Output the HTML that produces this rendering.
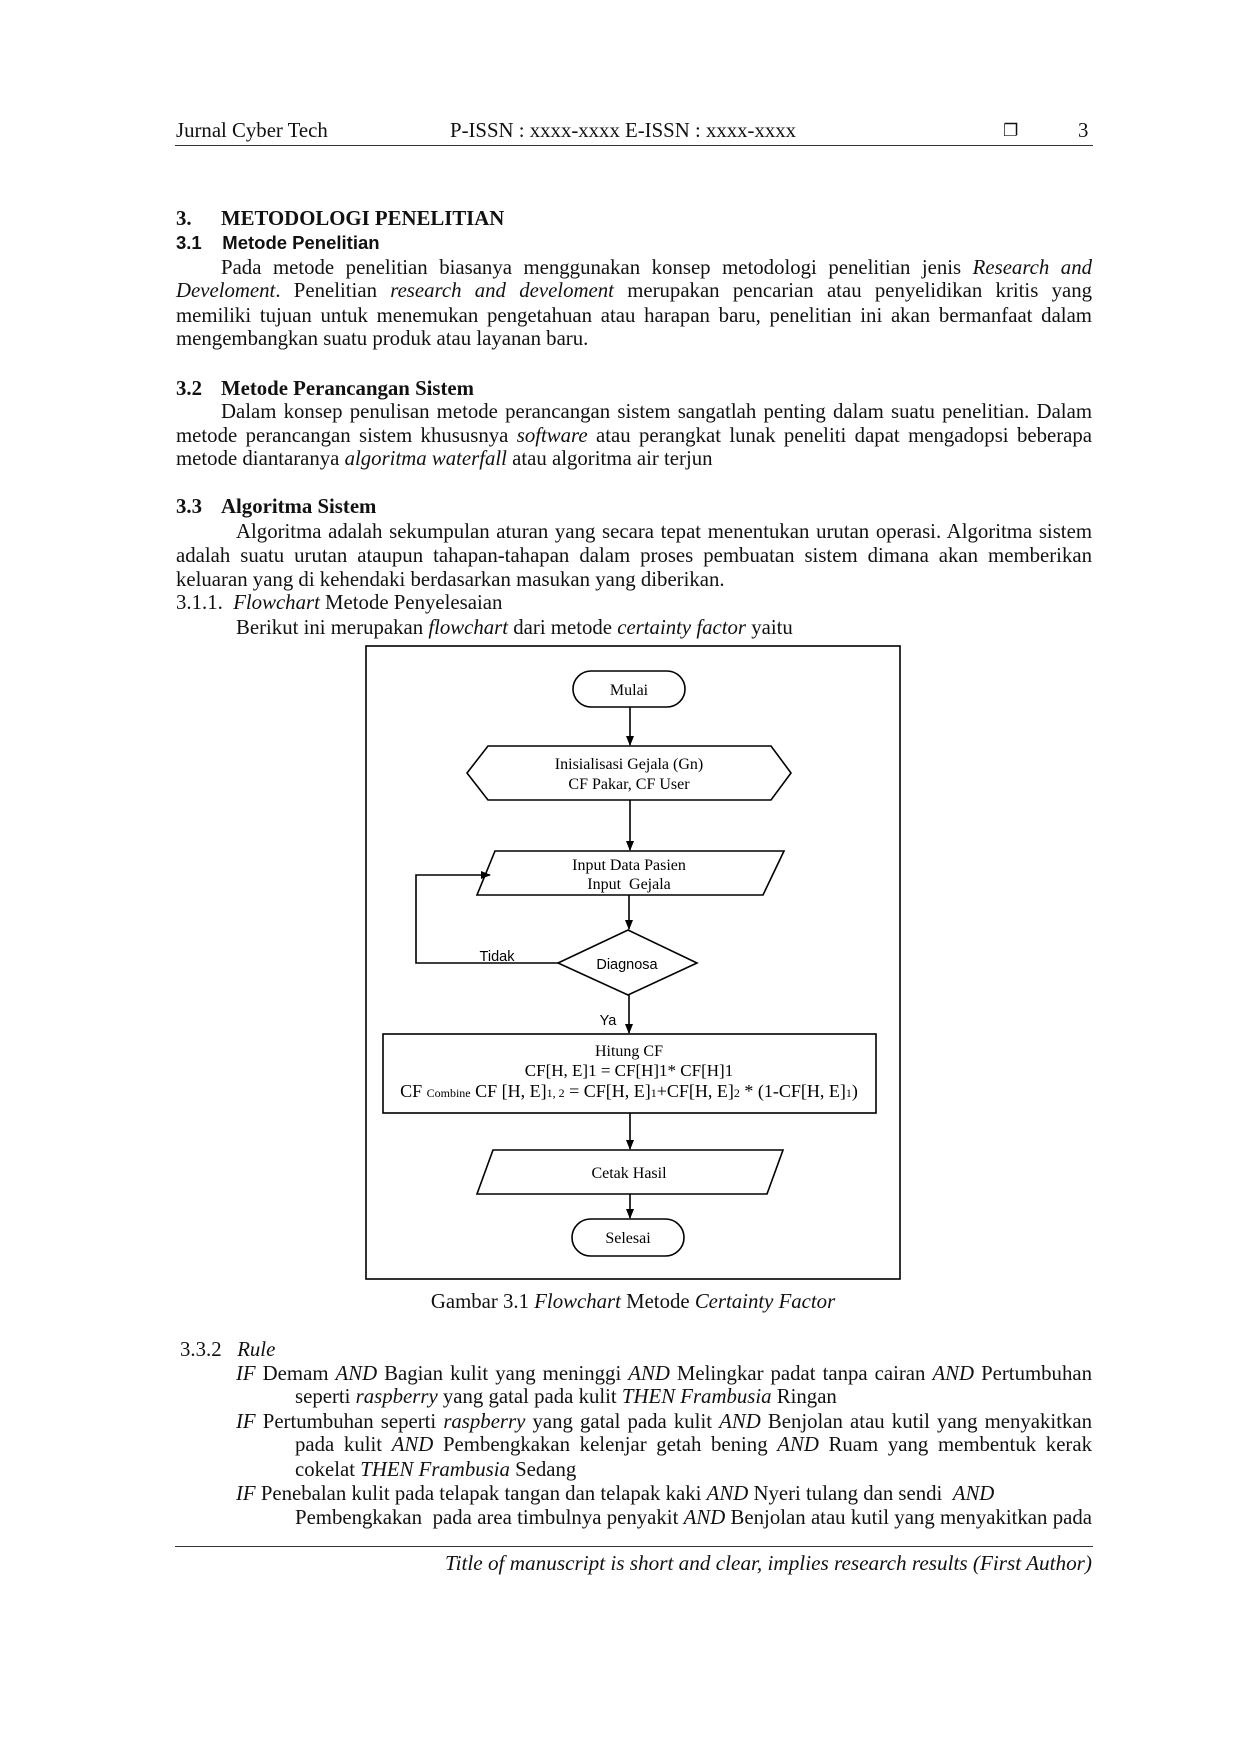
<!DOCTYPE html>
<html><head><meta charset="utf-8"><style>
body{margin:0;background:#fff;}
.p{position:relative;width:1240px;height:1754px;background:#fff;font-family:"Liberation Serif",serif;color:#111;font-size:20.8px;}
.l{position:absolute;height:24px;line-height:24px;white-space:nowrap;}
.j{text-align:justify;text-align-last:justify;white-space:normal;}
b{font-weight:bold}
.s{font-family:"Liberation Sans",sans-serif;font-weight:bold;font-size:18.5px}
</style></head><body><div class="p">
<div class="l" style="top:119px;left:176px">Jurnal Cyber Tech</div>
<div class="l" style="top:119px;left:450px">P-ISSN : xxxx-xxxx E-ISSN : xxxx-xxxx</div>
<div class="l" style="top:119px;left:1003px;font-family:'DejaVu Sans',sans-serif;font-size:17px">❐</div>
<div class="l" style="top:119px;left:1078px">3</div>
<div style="position:absolute;top:145px;left:175px;width:918px;border-top:1.5px solid #333"></div>

<div class="l" style="top:207px;left:176px"><b>3.</b></div>
<div class="l" style="top:207px;left:221px"><b>METODOLOGI PENELITIAN</b></div>
<div class="l s" style="top:231px;left:176px">3.1&nbsp;&nbsp;&nbsp;&nbsp;Metode Penelitian</div>
<div class="l j" style="top:256px;left:221px;width:871px">Pada metode penelitian biasanya menggunakan konsep metodologi penelitian jenis <i>Research and</i></div>
<div class="l j" style="top:279px;left:176px;width:916px"><i>Develoment</i>. Penelitian <i>research and develoment</i> merupakan pencarian atau penyelidikan kritis yang</div>
<div class="l j" style="top:304px;left:176px;width:916px">memiliki tujuan untuk menemukan pengetahuan atau harapan baru, penelitian ini akan bermanfaat dalam</div>
<div class="l" style="top:327px;left:176px">mengembangkan suatu produk atau layanan baru.</div>

<div class="l" style="top:377px;left:176px"><b>3.2</b></div>
<div class="l" style="top:377px;left:221px"><b>Metode Perancangan Sistem</b></div>
<div class="l j" style="top:400px;left:221px;width:871px">Dalam konsep penulisan metode perancangan sistem sangatlah penting dalam suatu penelitian. Dalam</div>
<div class="l j" style="top:424px;left:176px;width:916px">metode perancangan sistem khususnya <i>software</i> atau perangkat lunak peneliti dapat mengadopsi beberapa</div>
<div class="l" style="top:447px;left:176px">metode diantaranya <i>algoritma waterfall</i> atau algoritma air terjun</div>

<div class="l" style="top:495px;left:176px"><b>3.3</b></div>
<div class="l" style="top:495px;left:221px"><b>Algoritma Sistem</b></div>
<div class="l j" style="top:520px;left:236px;width:856px">Algoritma adalah sekumpulan aturan yang secara tepat menentukan urutan operasi. Algoritma sistem</div>
<div class="l j" style="top:544px;left:176px;width:916px">adalah suatu urutan ataupun tahapan-tahapan dalam proses pembuatan sistem dimana akan memberikan</div>
<div class="l" style="top:568px;left:176px">keluaran yang di kehendaki berdasarkan masukan yang diberikan.</div>
<div class="l" style="top:591px;left:176px">3.1.1.&nbsp;&nbsp;<i>Flowchart</i> Metode Penyelesaian</div>
<div class="l" style="top:616px;left:236px">Berikut ini merupakan <i>flowchart</i> dari metode <i>certainty factor</i> yaitu</div>

<svg style="position:absolute;left:0;top:0" width="1240" height="1754" font-family="Liberation Serif, serif" font-size="16" text-anchor="middle">
<defs><marker id="a" markerWidth="10" markerHeight="8" refX="9" refY="4" orient="auto" markerUnits="userSpaceOnUse"><path d="M0,0 L10,4 L0,8 z" fill="#000"/></marker></defs>
<g fill="none" stroke="#000" stroke-width="1.6">
<rect x="366" y="646" width="534" height="633"/>
<rect x="573" y="671" width="112" height="36" rx="18"/>
<polygon points="467,773 488,746 771,746 791,773 771,800 488,800"/>
<polygon points="495,851 784,851 763,895 477,895"/>
<polygon points="628,930 697,963 628,995 558,963"/>
<rect x="383" y="1034" width="493" height="79"/>
<polygon points="493,1150 783,1150 767,1194 477,1194"/>
<rect x="572" y="1219" width="112" height="37" rx="18.5"/>
<line x1="630" y1="707" x2="630" y2="745" marker-end="url(#a)"/>
<line x1="630" y1="800" x2="630" y2="850" marker-end="url(#a)"/>
<line x1="629" y1="895" x2="629" y2="929" marker-end="url(#a)"/>
<line x1="629" y1="995" x2="629" y2="1033" marker-end="url(#a)"/>
<line x1="630" y1="1113" x2="630" y2="1149" marker-end="url(#a)"/>
<line x1="630" y1="1194" x2="630" y2="1218" marker-end="url(#a)"/>
<polyline points="558,963 416,963 416,875 490,875" marker-end="url(#a)"/>
</g>
<text x="629" y="695">Mulai</text>
<text x="629" y="769">Inisialisasi Gejala (Gn)</text>
<text x="629" y="789">CF Pakar, CF User</text>
<text x="629" y="870">Input Data Pasien</text>
<text x="629" y="889">Input&nbsp; Gejala</text>
<text x="627" y="969" font-family="Liberation Sans, sans-serif" font-size="14.5">Diagnosa</text>
<text x="497" y="961" font-family="Liberation Sans, sans-serif" font-size="14.5">Tidak</text>
<text x="608" y="1025" font-family="Liberation Sans, sans-serif" font-size="14.5">Ya</text>
<text x="629" y="1056">Hitung CF</text>
<text x="629" y="1076" font-size="17">CF[H, E]1 = CF[H]1* CF[H]1</text>
<text x="629" y="1097" font-size="18">CF <tspan font-size="12">Combine</tspan> CF [H, E]<tspan font-size="12">1, 2</tspan> = CF[H, E]<tspan font-size="12">1</tspan>+CF[H, E]<tspan font-size="12">2</tspan> * (1-CF[H, E]<tspan font-size="12">1</tspan>)</text>
<text x="629" y="1178">Cetak Hasil</text>
<text x="628" y="1243">Selesai</text>
</svg>

<div class="l" style="top:1290px;left:0;width:1266px;text-align:center">Gambar 3.1 <i>Flowchart</i> Metode <i>Certainty Factor</i></div>
<div class="l" style="top:1338px;left:180px">3.3.2&nbsp;&nbsp;&nbsp;<i>Rule</i></div>
<div class="l j" style="top:1362px;left:236px;width:856px"><i>IF</i> Demam <i>AND</i> Bagian kulit yang meninggi <i>AND</i> Melingkar padat tanpa cairan <i>AND</i> Pertumbuhan</div>
<div class="l" style="top:1385px;left:295px">seperti <i>raspberry</i> yang gatal pada kulit <i>THEN Frambusia</i> Ringan</div>
<div class="l j" style="top:1410px;left:236px;width:856px"><i>IF</i> Pertumbuhan seperti <i>raspberry</i> yang gatal pada kulit <i>AND</i> Benjolan atau kutil yang menyakitkan</div>
<div class="l j" style="top:1433px;left:295px;width:797px">pada kulit <i>AND</i> Pembengkakan kelenjar getah bening <i>AND</i> Ruam yang membentuk kerak</div>
<div class="l" style="top:1458px;left:295px">cokelat <i>THEN Frambusia</i> Sedang</div>
<div class="l" style="top:1482px;left:236px"><i>IF</i> Penebalan kulit pada telapak tangan dan telapak kaki <i>AND</i> Nyeri tulang dan sendi&nbsp; <i>AND</i></div>
<div class="l j" style="top:1506px;left:295px;width:797px">Pembengkakan&nbsp; pada area timbulnya penyakit <i>AND</i> Benjolan atau kutil yang menyakitkan pada</div>
<div style="position:absolute;top:1546px;left:175px;width:918px;border-top:1.5px solid #333"></div>
<div class="l" style="top:1551px;right:148px;font-size:21.2px"><i>Title of manuscript is short and clear, implies research results (First Author)</i></div>
</div></body></html>
